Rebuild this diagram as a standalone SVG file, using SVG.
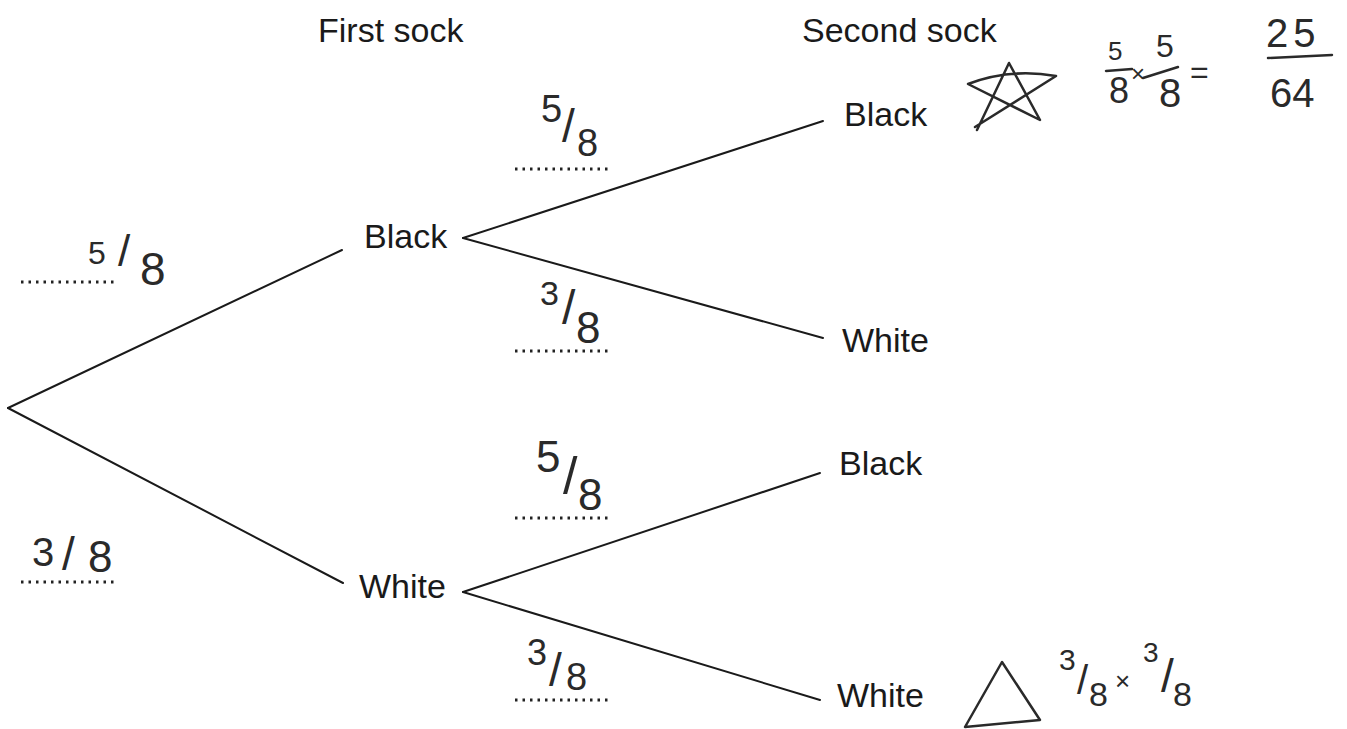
<svg xmlns="http://www.w3.org/2000/svg" width="1347" height="729" viewBox="0 0 1347 729">
<style>
.lbl{font-family:"Liberation Sans",Arial,sans-serif;font-size:34px;fill:#1a1a1a}
.hw{font-family:"Liberation Sans",Arial,sans-serif;fill:#2a2a2a}
.br{stroke:#1a1a1a;stroke-width:2;fill:none;stroke-linecap:round}
.dot{stroke:#222;stroke-width:3;stroke-dasharray:2.5 5;fill:none}
.pen{stroke:#2a2a2a;stroke-width:2.5;fill:none;stroke-linecap:round;stroke-linejoin:round}
</style>
<rect width="1347" height="729" fill="#fff"/>
<g id="headers">
<text class="lbl" x="318" y="42">First sock</text>
<text class="lbl" x="802" y="42">Second sock</text>
</g>
<g id="connectors">
<line class="br" x1="8" y1="408" x2="342" y2="250"/>
<line class="br" x1="8" y1="408" x2="343" y2="583"/>
<line class="br" x1="463" y1="238" x2="823" y2="121"/>
<line class="br" x1="463" y1="238" x2="823" y2="338"/>
<line class="br" x1="463" y1="592" x2="820" y2="473"/>
<line class="br" x1="463" y1="592" x2="820" y2="700"/>
</g>
<g id="node-first-black"><text class="lbl" x="364" y="248">Black</text></g>
<g id="node-first-white"><text class="lbl" x="359" y="598">White</text></g>
<g id="node-bb"><text class="lbl" x="844" y="126">Black</text></g>
<g id="node-bw"><text class="lbl" x="842" y="352">White</text></g>
<g id="node-wb"><text class="lbl" x="839" y="475">Black</text></g>
<g id="node-ww"><text class="lbl" x="837" y="707">White</text></g>
<g id="prob-first-black">
<line class="dot" x1="21" y1="282" x2="114" y2="282"/>
<text class="hw"><tspan x="88" y="264" font-size="32">5</tspan><tspan x="118" y="266" font-size="44">/</tspan><tspan x="140" y="285" font-size="46">8</tspan></text>
</g>
<g id="prob-first-white">
<line class="dot" x1="21" y1="582" x2="114" y2="582"/>
<text class="hw"><tspan x="32" y="566" font-size="40">3</tspan><tspan x="62" y="570" font-size="46">/</tspan><tspan x="88" y="572" font-size="44">8</tspan></text>
</g>
<g id="prob-bb">
<line class="dot" x1="515" y1="169" x2="608" y2="169"/>
<text class="hw"><tspan x="541" y="122" font-size="38">5</tspan><tspan x="562" y="142" font-size="46">/</tspan><tspan x="577" y="156" font-size="38">8</tspan></text>
</g>
<g id="prob-bw">
<line class="dot" x1="515" y1="351" x2="608" y2="351"/>
<text class="hw"><tspan x="540" y="305" font-size="34">3</tspan><tspan x="562" y="324" font-size="48">/</tspan><tspan x="576" y="343" font-size="44">8</tspan></text>
</g>
<g id="prob-wb">
<line class="dot" x1="515" y1="518" x2="608" y2="518"/>
<text class="hw"><tspan x="536" y="472" font-size="44">5</tspan><tspan x="563" y="494" font-size="52">/</tspan><tspan x="578" y="510" font-size="44">8</tspan></text>
</g>
<g id="prob-ww">
<line class="dot" x1="515" y1="700" x2="608" y2="700"/>
<text class="hw"><tspan x="527" y="665" font-size="36">3</tspan><tspan x="549" y="686" font-size="46">/</tspan><tspan x="566" y="690" font-size="38">8</tspan></text>
</g>
<g id="star-note">
<path class="pen" d="M977 130 L1009 63 L1040 120 L968 84 Q1010 68 1056 76 L975 127"/>
<line class="pen" x1="1106" y1="71" x2="1132" y2="69"/>
<line class="pen" x1="1143" y1="78" x2="1178" y2="67"/>
<line class="pen" x1="1268" y1="58" x2="1332" y2="55"/>
<text class="hw"><tspan x="1108" y="60" font-size="26">5</tspan><tspan x="1109" y="103" font-size="36">8</tspan><tspan x="1131" y="82" font-size="24">×</tspan><tspan x="1156" y="57" font-size="32">5</tspan><tspan x="1159" y="107" font-size="40">8</tspan><tspan x="1190" y="83" font-size="32">=</tspan><tspan x="1266" y="47" font-size="40" style="letter-spacing:5px">25</tspan><tspan x="1270" y="107" font-size="40">64</tspan></text>
</g>
<g id="triangle-note">
<path class="pen" d="M1002 662 L965 727 L1040 720 Z"/>
<text class="hw"><tspan x="1059" y="670" font-size="30">3</tspan><tspan x="1077" y="694" font-size="40">/</tspan><tspan x="1089" y="706" font-size="34">8</tspan><tspan x="1115" y="690" font-size="26">×</tspan><tspan x="1143" y="662" font-size="28">3</tspan><tspan x="1161" y="692" font-size="46">/</tspan><tspan x="1173" y="706" font-size="34">8</tspan></text>
</g>
</svg>
